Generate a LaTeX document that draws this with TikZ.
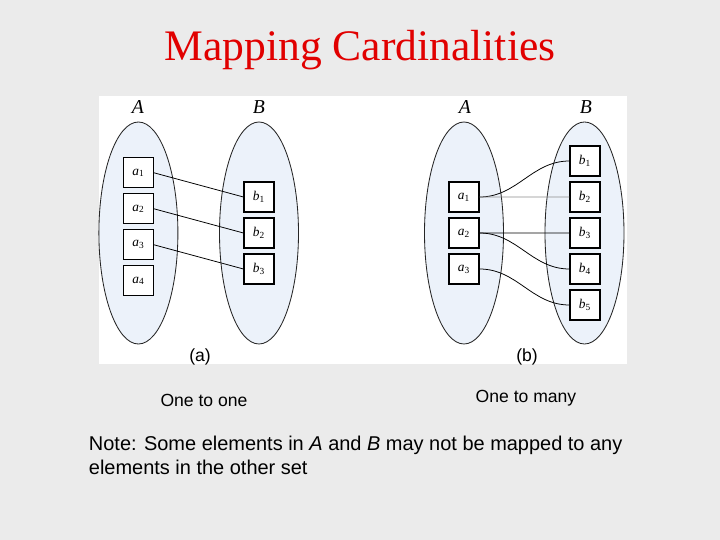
\documentclass[tikz,border=0pt]{standalone}
\usepackage{fontspec}
\setmainfont{Liberation Serif}
\setsansfont{Liberation Sans}
\usetikzlibrary{shapes.geometric, positioning, calc}

\definecolor{pagegray}{RGB}{235,235,235}
\definecolor{setblue}{RGB}{236,242,250}
\definecolor{titlered}{RGB}{225,0,0}

\begin{document}
\begin{tikzpicture}[
    setshape/.style={ellipse, draw=black!85, line width=0.6pt, fill=setblue, minimum width=1.975cm, minimum height=5.55cm, inner sep=0pt},
    elem/.style={rectangle, draw=black, line width=0.8pt, fill=white, minimum size=0.75cm, inner sep=0pt, font=\fontsize{9.5}{10}\selectfont},
    setlabel/.style={font=\fontsize{14}{16}\selectfont\itshape},
    caption/.style={font=\sffamily\fontsize{12.5}{14}\selectfont},
    notetext/.style={font=\sffamily\fontsize{14.2}{17}\selectfont, align=left},
    map/.style={line width=0.55pt, black},
    mapcurve/.style={map, out=0, in=180}
]

% Folie und Bildfeld
\useasboundingbox (0,0) rectangle (18,13.5);
\fill[pagegray] (0,0) rectangle (18,13.5);
\fill[white] (2.475,4.4) rectangle (15.675,11.1);

% Titel
\node[font=\fontsize{31}{36}\selectfont, text=titlered] (title) at (9,12.24) {Mapping Cardinalities};

% (a) Mengen
\node[setshape] (setA1) at (3.46,7.675) {};
\node[setshape] (setB1) at (6.475,7.675) {};
\node[setlabel] (labA1) at (3.45,10.83) {A};
\node[setlabel] (labB1) at (6.475,10.83) {B};

% (a) Elemente
\foreach \i in {1,...,4} {
    \node[elem] (oa\i) at (3.46,{9.18-0.9*(\i-1)}) {\textit{a}\textsubscript{\i}};
}
\foreach \i in {1,...,3} {
    \node[elem] (ob\i) at (6.475,{8.575-0.9*(\i-1)}) {\textit{b}\textsubscript{\i}};
}

% (b) Mengen
\node[setshape] (setA2) at (11.6,7.675) {};
\node[setshape] (setB2) at (14.6125,7.675) {};
\node[setlabel] (labA2) at (11.625,10.83) {A};
\node[setlabel] (labB2) at (14.65,10.83) {B};

% (b) Elemente
\foreach \i in {1,...,3} {
    \node[elem] (ma\i) at (11.6,{8.575-0.9*(\i-1)}) {\textit{a}\textsubscript{\i}};
}
\foreach \i in {1,...,5} {
    \node[elem] (mb\i) at (14.625,{9.475-0.9*(\i-1)}) {\textit{b}\textsubscript{\i}};
}

% Zuordnungen eins zu eins
\foreach \i in {1,...,3} {
    \draw[map] (oa\i.east) -- (ob\i.west);
}

% Zuordnungen eins zu viele
\draw[mapcurve] (ma1.east) to (mb1.west);
\draw[map, black!45] (ma1.east) -- (mb2.west);
\draw[map] (ma2.east) -- (mb3.west);
\draw[mapcurve] (ma2.east) to (mb4.west);
\draw[mapcurve] (ma3.east) to (mb5.west);

% Unterschriften
\node[font=\sffamily\fontsize{12.5}{14}\selectfont] (capa) at (5.0,4.575) {(a)};
\node[font=\sffamily\fontsize{12.5}{14}\selectfont] (capb) at (13.175,4.575) {(b)};
\node[caption] (onetoone) at (5.1,3.5) {One to one};
\node[caption] (onetomany) at (13.15,3.55) {One to many};

% Hinweis
\node[notetext, anchor=west] (note) at (2.1,2.125) {Note: Some elements in \textit{A} and \textit{B} may not be mapped to any\\elements in the other set};

\end{tikzpicture}
\end{document}
